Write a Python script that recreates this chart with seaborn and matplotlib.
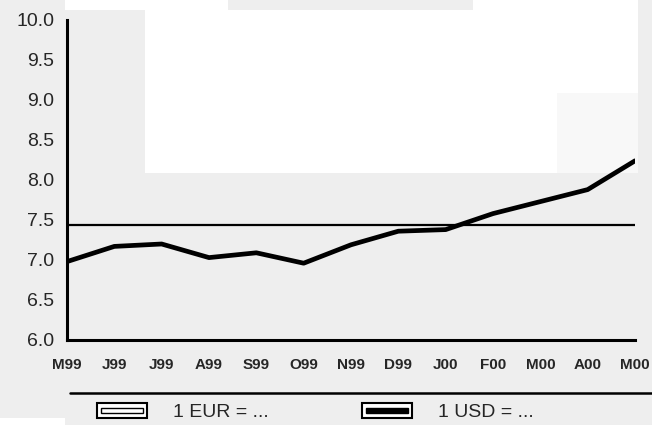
import numpy as np
import pandas as pd
import matplotlib
matplotlib.use("Agg")
import matplotlib.pyplot as plt
import seaborn as sns
from matplotlib.patches import Rectangle
from matplotlib.lines import Line2D
from matplotlib.legend_handler import HandlerBase

# months on the x axis (Mar 99 .. May 00)
months = ['M99', 'J99', 'J99', 'A99', 'S99', 'O99', 'N99', 'D99', 'J00', 'F00', 'M00', 'A00', 'M00']
# exchange rates
eur_rate = [7.44] * 13
usd_rate = [6.98, 7.17, 7.20, 7.03, 7.09, 6.96, 7.19, 7.36, 7.38, 7.58, 7.73, 7.88, 8.24]
y_ticks = [6.0, 6.5, 7.0, 7.5, 8.0, 8.5, 9.0, 9.5, 10.0]
legend_labels = ['1 EUR = ...', '1 USD = ...']

df = pd.DataFrame({'pos': np.arange(len(months)), 'EUR': eur_rate, 'USD': usd_rate})

sns.set_style("white")
plt.rcParams['font.family'] = ['Liberation Sans', 'DejaVu Sans']

W, H = 652, 425
fig = plt.figure(figsize=(W / 100, H / 100), dpi=100, facecolor='#eeeeee')

# scanned-page background: white patches over the grey
def px_rect(x0, y0, x1, y1, color):
    fig.add_artist(Rectangle((x0 / W, 1 - y1 / H), (x1 - x0) / W, (y1 - y0) / H,
                             transform=fig.transFigure, facecolor=color,
                             edgecolor='none', zorder=-5))

px_rect(65, 0, 228, 10, 'white')
px_rect(473, 0, 638, 10, 'white')
px_rect(145, 10, 638, 93, 'white')
px_rect(145, 93, 557, 173, 'white')
px_rect(557, 93, 638, 173, '#f8f8f8')
px_rect(0, 418, 65, 425, 'white')

ax = fig.add_axes([67 / W, 1 - 340 / H, (635 - 67) / W, (340 - 20) / H])
ax.set_facecolor('none')

sns.lineplot(data=df, x='pos', y='EUR', ax=ax, color='black', linewidth=1.6)
sns.lineplot(data=df, x='pos', y='USD', ax=ax, color='black', linewidth=3.4)

ax.set_xlim(0, len(months) - 1)
ax.set_ylim(6.0, 10.0)
ax.set_xticks(np.arange(len(months)))
ax.set_xticklabels(months, fontsize=11, fontweight='bold')
ax.set_yticks(y_ticks)
ax.set_yticklabels([f'{v:.1f}' for v in y_ticks], fontsize=14)
ax.set_xlabel('')
ax.set_ylabel('')

for side in ['top', 'right']:
    ax.spines[side].set_visible(False)
for side in ['left', 'bottom']:
    ax.spines[side].set_linewidth(2.2)
    ax.spines[side].set_color('black')
ax.tick_params(axis='both', direction='out', length=6, width=1.8, color='black')
ax.tick_params(axis='x', pad=7)
ax.tick_params(axis='y', pad=3)

# separator line above the legend
fig.add_artist(Line2D([70 / W, 1.0], [1 - 393 / H] * 2, transform=fig.transFigure,
                      color='black', linewidth=1.8))


# legend key: outlined box with an inner bar (open for EUR, filled for USD)
class BoxKey(HandlerBase):
    def __init__(self, filled):
        super().__init__()
        self.filled = filled

    def create_artists(self, legend, orig_handle, xdescent, ydescent, width, height,
                       fontsize, trans):
        outer = Rectangle((-xdescent, -ydescent), width, height, facecolor='white',
                          edgecolor='black', linewidth=1.5, transform=trans)
        ih = height * 0.38
        inner = Rectangle((-xdescent + width * 0.08, -ydescent + (height - ih) / 2),
                          width * 0.84, ih,
                          facecolor='black' if self.filled else 'white',
                          edgecolor='black', linewidth=1.0, transform=trans)
        return [outer, inner]


key_eur = Rectangle((0, 0), 1, 1)
key_usd = Rectangle((0, 0), 1, 1)
legend_y = 1 - 412 / H
for key, label, x0, filled in [(key_eur, legend_labels[0], 97, False),
                                (key_usd, legend_labels[1], 362, True)]:
    fig.legend([key], [label], loc='center left', bbox_to_anchor=(x0 / W, legend_y),
               frameon=False, fontsize=14, handlelength=2.55, handleheight=0.8,
               handletextpad=1.35, borderpad=0, borderaxespad=0,
               handler_map={key: BoxKey(filled)})

fig.savefig('out.png', dpi=100, facecolor=fig.get_facecolor())
